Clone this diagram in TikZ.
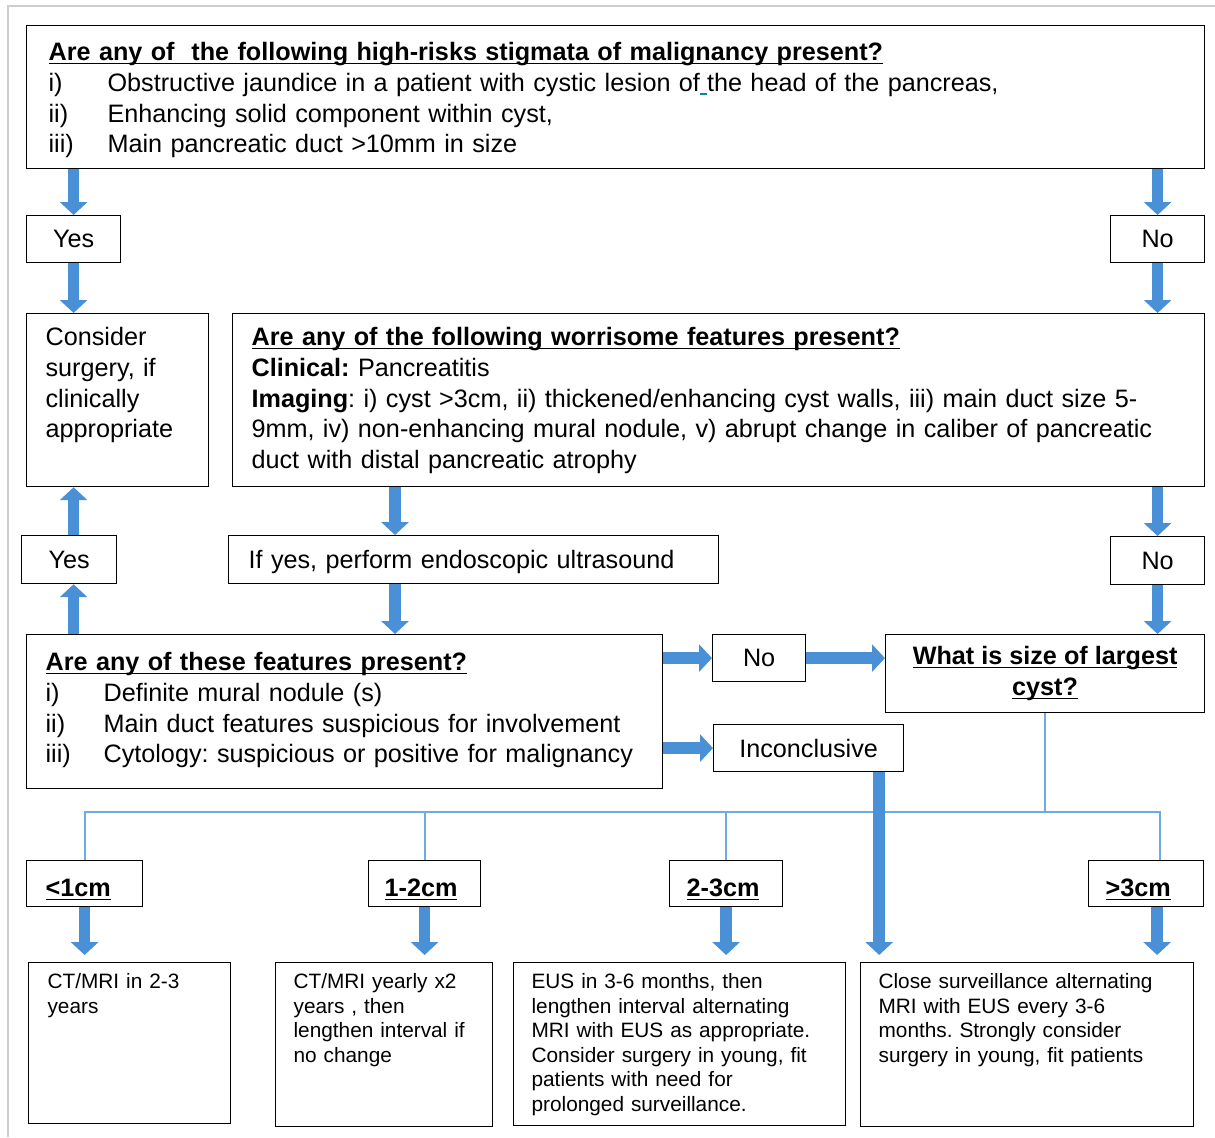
\documentclass[tikz,border=0pt]{standalone}
\usepackage{fontspec}
\setmainfont{Liberation Sans}
\usepackage{xcolor}
\usepackage{tikz}
\usetikzlibrary{arrows.meta}
\definecolor{flow}{RGB}{74,144,214}
\definecolor{branch}{RGB}{110,170,228}
\definecolor{edgegray}{RGB}{205,205,205}
\definecolor{spell}{RGB}{0,140,140}
\frenchspacing
\hyphenpenalty=10000
\newcommand{\lbl}[2]{\makebox[#1][l]{#2}}
\newcommand{\undl}[1]{\setbox0\hbox{#1}\rlap{\rule[-1.8pt]{\wd0}{0.75pt}}\box0}
\tikzset{
  txt/.style = {font=\fontsize{12.6}{15.35}\selectfont},
  small/.style = {font=\fontsize{10.4}{12.25}\selectfont},
  box/.style = {draw, line width=0.6pt, anchor=north west, inner ysep=0pt, inner xsep=9.5pt, align=left},
  ans/.style = {draw, txt, line width=0.6pt, anchor=north west, inner sep=0pt, align=center},
  blk/.style = {draw=flow, line width=5.75pt, -{Triangle[width=13.5pt,length=6.5pt]}},
  tree/.style = {draw=branch, line width=1pt}
}
\begin{document}
\begin{tikzpicture}[x=0.5pt, y=-0.5pt]
\useasboundingbox (0,0) rectangle (1215,1137);
\draw[edgegray, line width=1pt] (8,1137) -- (8,6) -- (1215,6);

% high risk stigmata
\node[box, txt, inner xsep=11pt, text width=567pt, text height=17.5pt, text depth=54pt] (risk) at (26,25)
  {\undl{\textbf{Are any of~ the following high-risks stigmata of malignancy present?}}\\
   \lbl{29.5pt}{i)}Obstructive jaundice in a patient with cystic lesion of\textcolor{spell}{\rule[-2pt]{3.5pt}{1pt}}the head of the pancreas,\\
   \lbl{29.5pt}{ii)}Enhancing solid component within cyst,\\
   \lbl{29.5pt}{iii)}Main pancreatic duct >10mm in size};
\node[ans, minimum width=47pt, minimum height=23.5pt] (yes1) at (26,215) {Yes};
\node[ans, minimum width=47pt, minimum height=23.5pt] (no1) at (1110,215) {No};

% worrisome features
\node[box, txt, text width=72pt, text height=16pt, text depth=70.5pt] (surg) at (26,313)
  {Consider\\ surgery, if\\ clinically\\ appropriate};
\node[box, txt, text width=467pt, text height=16pt, text depth=70.5pt] (worry) at (232,313)
  {\undl{\textbf{Are any of the following worrisome features present?}}\\
   \textbf{Clinical:} Pancreatitis\\
   \textbf{Imaging}: i) cyst >3cm, ii) thickened/enhancing cyst walls, iii) main duct size 5-\\
   9mm, iv) non-enhancing mural nodule, v) abrupt change in caliber of pancreatic\\
   duct with distal pancreatic atrophy};
\node[ans, minimum width=47.5pt, minimum height=24pt] (yes2) at (21,535) {Yes};
\node[box, txt, inner xsep=10pt, text width=225pt, text height=16.5pt, text depth=7.5pt] (eus) at (228,535)
  {If yes, perform endoscopic ultrasound};
\node[ans, minimum width=47pt, minimum height=24pt] (no2) at (1110,536) {No};

% EUS features
\node[box, txt, text width=299pt, text height=18pt, text depth=59pt] (feat) at (26,634)
  {\undl{\textbf{Are any of these features present?}}\\
   \lbl{29pt}{i)}Definite mural nodule (s)\\
   \lbl{29pt}{ii)}Main duct features suspicious for involvement\\
   \lbl{29pt}{iii)}Cytology: suspicious or positive for malignancy};
\node[ans, minimum width=46.5pt, minimum height=23.5pt] (no3) at (712,634) {No};
\node[ans, minimum width=159.5pt, minimum height=39pt] (size) at (885,634)
  {\undl{\textbf{What is size of largest}}\\ \undl{\textbf{cyst?}}};
\node[ans, minimum width=95pt, minimum height=23.5pt] (inc) at (713,724) {Inconclusive};

% cyst size
\node[box, txt, text width=39pt, text height=18pt, text depth=5pt] (s1) at (26,860) {\undl{\textbf{<1cm}}};
\node[box, txt, inner xsep=8pt, text width=40pt, text height=18pt, text depth=5pt] (s2) at (368,860) {\undl{\textbf{1-2cm}}};
\node[box, txt, inner xsep=8.5pt, text width=39.5pt, text height=18pt, text depth=5pt] (s3) at (669,860) {\undl{\textbf{2-3cm}}};
\node[box, txt, inner xsep=8.5pt, text width=40.5pt, text height=18pt, text depth=5pt] (s4) at (1088,860) {\undl{\textbf{>3cm}}};

% follow-up
\node[box, small, text width=82pt, text height=13pt, text depth=67.5pt] (b1) at (28,962)
  {CT/MRI in 2-3\\ years};
\node[box, small, inner xsep=9pt, text width=90.5pt, text height=13pt, text depth=69pt] (b2) at (275,962)
  {CT/MRI yearly x2\\ years , then\\ lengthen interval if\\ no change};
\node[box, small, inner xsep=9pt, text width=148pt, text height=13pt, text depth=68.5pt] (b3) at (513,962)
  {EUS in 3-6 months, then\\ lengthen interval alternating\\ MRI with EUS as appropriate.\\ Consider surgery in young, fit\\ patients with need for\\ prolonged surveillance.};
\node[box, small, inner xsep=9pt, text width=148.5pt, text height=13pt, text depth=69pt] (b4) at (860,962)
  {Close surveillance alternating\\ MRI with EUS every 3-6\\ months. Strongly consider\\ surgery in young, fit patients};

\coordinate (eusin) at ([xshift=83.5pt]eus.north west);
\coordinate (incout) at ([xshift=-12.5pt]inc.south east);
\coordinate (bar) at (0,812);
\coordinate (s4in) at ([xshift=7pt]s4.north);
\coordinate (s4out) at ([xshift=5.5pt]s4.south);

% size branches
\draw[tree] (size.south) -- (size.south |- bar);
\draw[tree] (s1.north) -- (s1.north |- bar) -| (s4in);
\draw[tree] (s2.north) -- (s2.north |- bar);
\draw[tree] (s3.north) -- (s3.north |- bar);

% flow arrows
\draw[blk] (yes1.north |- risk.south) -- (yes1.north);
\draw[blk] (no1.north |- risk.south) -- (no1.north);
\draw[blk] (yes1.south) -- (yes1.south |- surg.north);
\draw[blk] (no1.south) -- (no1.south |- worry.north);
\draw[blk] (eusin |- worry.south) -- (eusin);
\draw[blk] (eusin |- eus.south) -- (eusin |- feat.north);
\draw[blk] (no2.north |- worry.south) -- (no2.north);
\draw[blk] (no2.south) -- (no2.south |- size.north);
\draw[blk] (yes1.south |- feat.north) -- (yes1.south |- yes2.south);
\draw[blk] (yes1.south |- yes2.north) -- (yes1.south |- surg.south);
\draw[blk] (feat.east |- no3.west) -- (no3.west);
\draw[blk] (no3.east) -- (no3.east -| size.west);
\draw[blk] (feat.east |- inc.west) -- (inc.west);
\draw[blk, shorten >=3.5pt] (incout) -- (incout |- b4.north);
\draw[blk, shorten >=3.5pt] (s1.south) -- (s1.south |- b1.north);
\draw[blk, shorten >=3.5pt] (s2.south) -- (s2.south |- b2.north);
\draw[blk, shorten >=3.5pt] (s3.south) -- (s3.south |- b3.north);
\draw[blk, shorten >=3.5pt] (s4out) -- (s4out |- b4.north);
\end{tikzpicture}
\end{document}
